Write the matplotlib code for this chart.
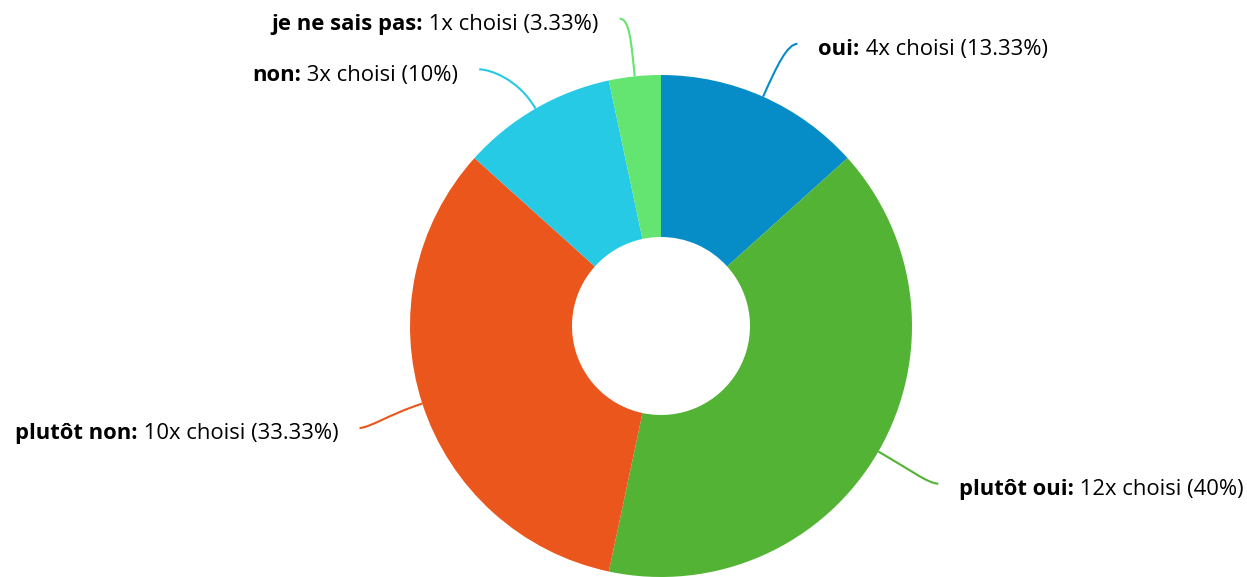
import numpy as np
import matplotlib
matplotlib.use("Agg")
import matplotlib.pyplot as plt
from matplotlib.path import Path
from matplotlib.patches import PathPatch

categories = ["oui", "plutôt oui", "plutôt non", "non", "je ne sais pas"]
counts = [4, 12, 10, 3, 1]
percent_labels = ["13.33%", "40%", "33.33%", "10%", "3.33%"]
colors = ["#068dc8", "#52b334", "#eb561c", "#26cae4", "#64e470"]

W, H = 1247, 577
fig = plt.figure(figsize=(W / 100, H / 100), dpi=100)
ax = fig.add_axes([0, 0, 1, 1])
ax.set_xlim(0, W)
ax.set_ylim(0, H)
ax.set_aspect("equal")
ax.axis("off")

cx, cy = 661, H - 326
R = 251
hole = 89
ax.pie(counts, colors=colors, startangle=90, counterclock=False,
       center=(cx, cy), radius=R,
       wedgeprops=dict(width=R - hole, linewidth=0))
ax.set_xlim(0, W)
ax.set_ylim(0, H)

font = "Open Sans"
fs = 15.8
total = sum(counts)
angle_nudge = [1.5, -1, 0, -5, -1.5]
r_end = 317
y_shift = [4, 4, 4, 3, 7]
start = 0.0
for i, (cat, c) in enumerate(zip(categories, counts)):
    span = 360.0 * c / total
    mid = start + span / 2
    start += span
    th = np.deg2rad(mid)
    p0 = (cx + R * np.sin(th), cy + R * np.cos(th))
    p1 = (cx + (R + 35) * np.sin(th), cy + (R + 35) * np.cos(th))
    th2 = np.deg2rad(mid + angle_nudge[i])
    p3 = (cx + r_end * np.sin(th2), cy + r_end * np.cos(th2) - y_shift[i])
    side = 1 if np.sin(th2) >= 0 else -1
    p2 = (p3[0] - side * 10, p3[1])
    path = Path([p0, p1, p2, p3], [Path.MOVETO, Path.CURVE4, Path.CURVE4, Path.CURVE4])
    ax.add_patch(PathPatch(path, fc="none", ec=colors[i], lw=1.5))
    tx = p3[0] + side * 21
    ty = p3[1] - 6
    label_rest = f" {c}x choisi ({percent_labels[i]})"
    if side > 0:
        t1 = ax.text(tx, ty, cat + ":", fontsize=fs, fontweight="bold",
                     family=font, ha="left", va="center")
        fig.canvas.draw()
        bb = t1.get_window_extent()
        ax.text(bb.x1, ty, label_rest, fontsize=fs, family=font, ha="left", va="center")
    else:
        t2 = ax.text(tx, ty, label_rest, fontsize=fs, family=font, ha="right", va="center")
        fig.canvas.draw()
        bb = t2.get_window_extent()
        ax.text(bb.x0, ty, cat + ":", fontsize=fs, fontweight="bold",
                family=font, ha="right", va="center")

fig.savefig("out.png", dpi=100)
